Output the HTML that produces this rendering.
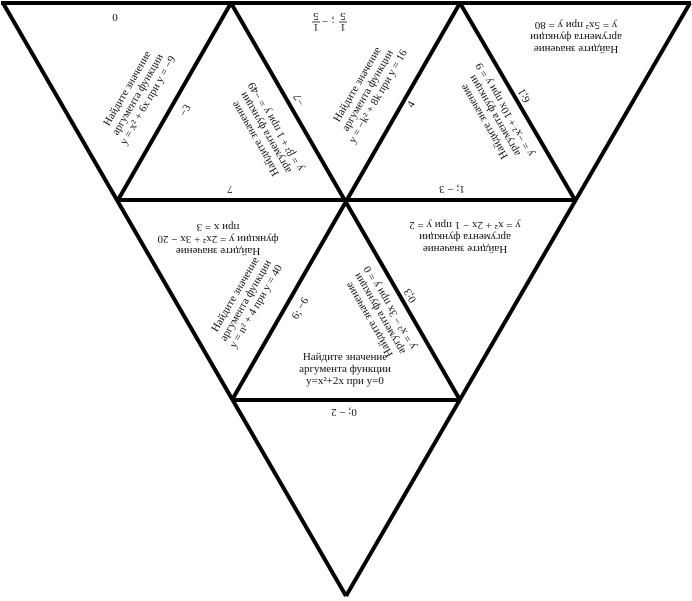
<!DOCTYPE html>
<html><head><meta charset="utf-8"><style>
html,body{margin:0;padding:0;background:#fff;}
svg{display:block}
text{font-family:"Liberation Serif",serif;font-size:11px;fill:#111;}
</style></head><body>
<svg width="692" height="601" viewBox="0 0 692 601" xmlns="http://www.w3.org/2000/svg">
<g stroke="#000" stroke-width="4" fill="none" stroke-linejoin="miter">
<line x1="1" y1="3" x2="691" y2="3"/>
<line x1="118" y1="200" x2="575" y2="200"/>
<line x1="232" y1="400" x2="460" y2="400"/>
<line x1="3" y1="3" x2="346" y2="596"/>
<line x1="690" y1="3" x2="346" y2="596"/>
<line x1="231" y1="3" x2="118" y2="200"/>
<line x1="231" y1="3" x2="460" y2="400"/>
<line x1="460" y1="3" x2="232" y2="400"/>
<line x1="460" y1="3" x2="575" y2="200"/>
</g>
<g text-anchor="middle">
<text transform="translate(115,14) rotate(180)">0</text>
<text transform="translate(230,186) rotate(180)">7</text>
<text transform="translate(452,186) rotate(180)">1; − 3</text>
<text transform="translate(344,409) rotate(180)">0; − 2</text>
<g transform="translate(336,18) rotate(180)">
<text x="-7" y="-6" font-size="10">1</text><line x1="-11" y1="-4" x2="-3" y2="-4" stroke="#111" stroke-width="0.8"/><text x="-7" y="5" font-size="10">5</text>
<text x="3" y="0" font-size="10">;</text>
<text x="11" y="0" font-size="10">−</text>
<text x="20" y="-6" font-size="10">1</text><line x1="16" y1="-4" x2="24" y2="-4" stroke="#111" stroke-width="0.8"/><text x="20" y="5" font-size="10">5</text>
</g>

<g transform="translate(576,46) rotate(180)">
<text y="0">Найдите значение</text><text y="12">аргумента функции</text><text y="24">y = 5x² при y = 80</text></g>
<g transform="translate(465,246) rotate(180)">
<text y="0">Найдите значение</text><text y="12">аргумента функции</text><text y="24">y = x² + 2x − 1 при y = 2</text></g>
<g transform="translate(218,248) rotate(180)">
<text y="0">Найдите значение</text><text y="12">функции y = 2x² + 3x − 20</text><text y="24">при x = 3</text></g>

<g transform="translate(345,360)">
<text y="0" font-size="11.5">Найдите значение</text><text y="12" font-size="11.5">аргумента функции</text><text y="24" font-size="11.5">y=x²+2x при y=0</text></g>

<g transform="translate(130,90) rotate(-60)">
<text y="0">Найдите значение</text><text y="12">аргумента функции</text><text y="24">y = x² + 6x при y = −9</text></g>
<text transform="translate(188,112) rotate(-60)">−3</text>

<g transform="translate(258,137) rotate(-120)">
<text y="0">Найдите значение</text><text y="12">аргумента функции</text><text y="24">y = β² + 1 при y = −49</text></g>
<text transform="translate(302,98) rotate(-120)">−7</text>

<g transform="translate(360,86) rotate(-60)">
<text y="0">Найдите значение</text><text y="12">аргумента функции</text><text y="24">y = −k² + 8k при y = 16</text></g>
<text transform="translate(414,106) rotate(-60)">4</text>

<g transform="translate(487,120) rotate(-120)">
<text y="0">Найдите значение</text><text y="12">аргумента функции</text><text y="24">y = −x² + 10x при y = 9</text></g>
<text transform="translate(527,94) rotate(-120)">6;1</text>

<g transform="translate(238,296) rotate(-60)">
<text y="0">Найдите значение</text><text y="12">аргумента функции</text><text y="24">y = n² + 4 при y = 40</text></g>
<text transform="translate(303,310) rotate(-60)">6; −6</text>

<g transform="translate(372,318) rotate(-120)">
<text y="0">Найдите значение</text><text y="12">аргумента функции</text><text y="24">y = x² − 3x при y = 0</text></g>
<text transform="translate(413,294) rotate(-120)">0;3</text>
</g>
</svg>
</body></html>
